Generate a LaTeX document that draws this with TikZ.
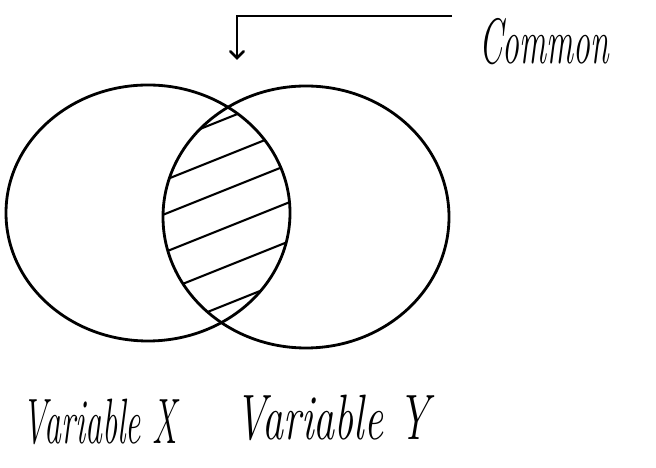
\documentclass[tikz,border=0pt]{standalone}
\usepackage{tikz}
\usetikzlibrary{arrows}

\begin{document}
\begin{tikzpicture}[line width=2pt, hand/.style = {font=\itshape\fontsize{24}{28}\selectfont, yscale=1.9, transform shape}, hatch/.style = {line width=1.5pt}]
        \useasboundingbox (0, 0) rectangle (16.4, 11.7);
        \draw (3.7, 6.375) ellipse (3.55 and 3.2);
        \draw (7.65, 6.275) ellipse (3.575 and 3.275);
        \begin{scope}
            \clip (3.7, 6.375) ellipse (3.55 and 3.2);
            \clip (7.65, 6.275) ellipse (3.575 and 3.275);
            \foreach \y in {8.775, 7.85, 7.0, 6.05, 5.075, 4.125}
                \draw[hatch] (2.75, \y-1.2) -- (8.75, \y+1.2);
        \end{scope}
        \node[hand] (common) at (13.6, 10.65) {Common};
        \node[hand] (X) at (2.5, 1.15) {Variable X};
        \node[hand, xscale=1.25] (Y) at (8.3, 1.25) {Variable Y};
        \coordinate (tail) at (11.3, 11.3);
        \coordinate (lens) at (5.925, 10.2);
        \draw[-angle 90] (tail) -| (lens);
    \end{tikzpicture}
\end{document}
